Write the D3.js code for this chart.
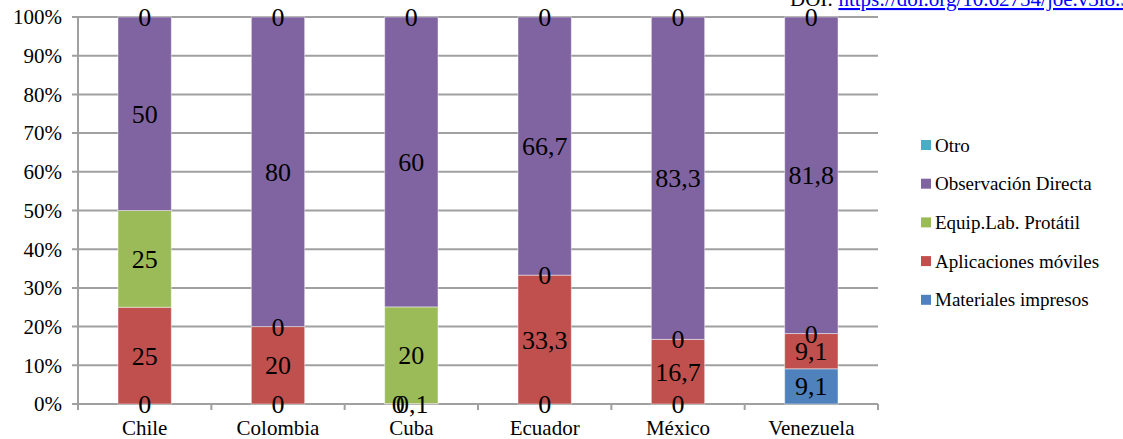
<!DOCTYPE html>
<html>
<head>
<meta charset="utf-8">
<script src="https://cdn.jsdelivr.net/npm/d3@7"></script>
<style>
  html, body { margin: 0; padding: 0; background: #fff; }
  svg text { font-family: "Liberation Serif", Tinos, "Times New Roman", "DejaVu Serif", serif; }
</style>
</head>
<body>
<svg id="chart" width="1123" height="439"></svg>
<script>
// Instrumentos de evaluación por país (porcentaje apilado)
const categories = ["Chile", "Colombia", "Cuba", "Ecuador", "México", "Venezuela"];
const materialesImpresos = [0, 0, 0, 0, 0, 9.1];
const aplicacionesMoviles = [25, 20, 0.1, 33.3, 16.7, 9.1];
const equipLabPortatil = [25, 0, 20, 0, 0, 0];
const observacionDirecta = [50, 80, 60, 66.7, 83.3, 81.8];
const otro = [0, 0, 0, 0, 0, 0];
const yTickLabels = ["0%", "10%", "20%", "30%", "40%", "50%", "60%", "70%", "80%", "90%", "100%"];

const seriesList = [
  { name: "Materiales impresos", values: materialesImpresos, color: "#4F81BD" },
  { name: "Aplicaciones móviles", values: aplicacionesMoviles, color: "#C0504D" },
  { name: "Equip.Lab. Protátil", values: equipLabPortatil, color: "#9BBB59" },
  { name: "Observación Directa", values: observacionDirecta, color: "#8064A2" },
  { name: "Otro", values: otro, color: "#4BACC6" }
];

const FONT = "'Liberation Serif', Tinos, 'Times New Roman', 'DejaVu Serif', serif";
const svg = d3.select("#chart");
const margin = { left: 78, right: 245, top: 17, bottom: 35 };
const W = 1123, H = 439;

const x = d3.scaleBand().domain(categories).range([margin.left, W - margin.right]).paddingInner(0.6).paddingOuter(0.3);
const y = d3.scaleLinear().domain([0, 1]).range([H - margin.bottom, margin.top]);

// Rows of proportions per category
const rows = categories.map((c, i) => {
  const row = { cat: c };
  const total = d3.sum(seriesList, s => s.values[i]);
  seriesList.forEach(s => { row[s.name] = s.values[i] / total; });
  return row;
});
const stack = d3.stack().keys(seriesList.map(s => s.name));
const stacked = stack(rows);

// Gridlines
const yTicks = d3.range(0, 1.0001, 0.1);
svg.append("g").selectAll("line").data(yTicks).join("line")
  .attr("x1", margin.left - 6).attr("x2", W - margin.right)
  .attr("y1", d => y(d)).attr("y2", d => y(d))
  .attr("stroke", "#a0a0a0").attr("stroke-width", 2);

// Y axis line
svg.append("line")
  .attr("x1", margin.left).attr("x2", margin.left)
  .attr("y1", y(0)).attr("y2", y(1))
  .attr("stroke", "#a0a0a0").attr("stroke-width", 2);

// Category boundary ticks below the baseline
const bounds = d3.range(categories.length + 1).map(i => margin.left + i * x.step());
svg.append("g").selectAll("line").data(bounds).join("line")
  .attr("x1", d => d).attr("x2", d => d)
  .attr("y1", y(0)).attr("y2", y(0) + 6)
  .attr("stroke", "#a0a0a0").attr("stroke-width", 2);

// Y tick labels
svg.append("g").selectAll("text").data(yTicks).join("text")
  .attr("x", margin.left - 16).attr("y", d => y(d))
  .attr("dy", "0.35em").attr("text-anchor", "end")
  .attr("font-family", FONT)
  .attr("font-size", 21).attr("fill", "#000")
  .text((d, i) => yTickLabels[i]);

// Bars
const layers = svg.append("g").selectAll("g").data(stacked).join("g")
  .attr("fill", (d, i) => seriesList[i].color);
layers.selectAll("rect").data(d => d).join("rect")
  .attr("x", d => x(d.data.cat))
  .attr("width", x.bandwidth())
  .attr("y", d => y(d[1]))
  .attr("height", d => y(d[0]) - y(d[1]))
  .attr("stroke", "rgba(255,255,255,0.45)")
  .attr("stroke-width", 1);

// Category labels
svg.append("g").selectAll("text").data(categories).join("text")
  .attr("x", d => x(d) + x.bandwidth() / 2).attr("y", H - margin.bottom + 31)
  .attr("text-anchor", "middle").attr("font-size", 21).attr("fill", "#000")
  .attr("font-family", FONT)
  .text(d => d);

// Data labels
const fmt = v => String(v).replace(".", ",");
const labels = [];
stacked.forEach((layer, si) => {
  layer.forEach((d, ci) => {
    labels.push({
      ci, si,
      v: seriesList[si].values[ci],
      cx: x(d.data.cat) + x.bandwidth() / 2,
      cy: y((d[0] + d[1]) / 2)
    });
  });
});
// Overlapping labels at the same spot: nudge them apart sideways
labels.forEach(a => {
  labels.forEach(b => {
    if (a.ci === b.ci && a.si < b.si && Math.abs(a.cy - b.cy) < 1 && a.v === 0 && b.v > 0) {
      a.cx -= 13; b.cx += 1;
    }
  });
});
svg.append("g").selectAll("text").data(labels).join("text")
  .attr("x", d => d.cx).attr("y", d => d.cy)
  .attr("dy", "0.35em").attr("text-anchor", "middle")
  .attr("font-family", FONT)
  .attr("font-size", 26).attr("fill", "#000")
  .text(d => fmt(d.v));

// Legend (top to bottom in reverse stacking order)
const legendItems = seriesList.slice().reverse();
const lg = svg.append("g").selectAll("g").data(legendItems).join("g")
  .attr("transform", (d, i) => `translate(921, ${145 + i * 38.7})`);
lg.append("rect").attr("x", 0).attr("y", -5).attr("width", 10).attr("height", 10)
  .attr("fill", d => d.color);
lg.append("text").attr("x", 14).attr("y", 0).attr("dy", "0.35em")
  .attr("font-family", FONT)
  .attr("font-size", 19).attr("fill", "#000").text(d => d.name);

// DOI line at the top edge
const doi = svg.append("text").attr("x", 790).attr("y", 6).attr("font-size", 21).attr("font-family", FONT);
doi.append("tspan").attr("fill", "#000").text("DOI: ");
doi.append("tspan").attr("fill", "#0000ff").attr("text-decoration", "underline")
  .text("https://doi.org/10.62754/joe.v3i8.5000");
</script>
</body>
</html>
